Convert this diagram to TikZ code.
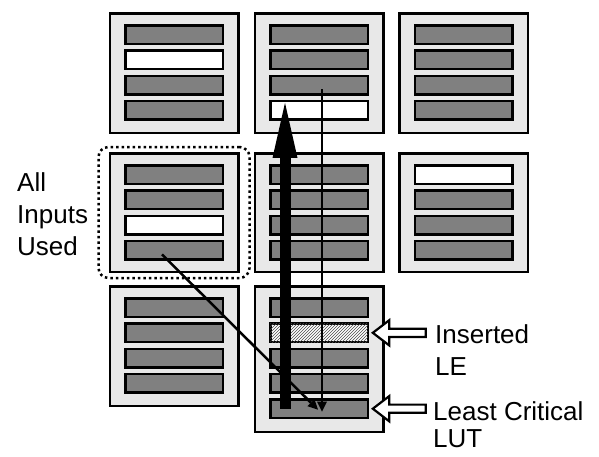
\documentclass[tikz,border=0pt]{standalone}
\usepackage{fontspec}
\setmainfont{Liberation Sans}
\usepackage{tikz}
\usetikzlibrary{arrows.meta, positioning, fit, calc, shapes.arrows, patterns}

\begin{document}
\begin{tikzpicture}[x=1pt, y=-1pt,
  cell/.style={draw, line width=2.5pt, fill=black!9, minimum width=128.5pt, inner sep=0pt},
  used/.style={draw, line width=2.5pt, fill=black!50, minimum width=97.5pt, minimum height=18.5pt, inner sep=0pt},
  free/.style={used, fill=white},
  ins/.style={used, fill=white, postaction={pattern=north east lines, pattern color=black!70}},
  grp/.style={draw, line width=2.5pt, dash pattern=on 2.5pt off 3pt, rounded corners=10pt},
  bigarr/.style={-{Triangle[length=55pt, width=25pt, line width=0pt]}, line width=11pt},
  arr/.style={-{Triangle[length=10pt, width=10pt, line width=0pt]}, line width=2.5pt},
  ptr/.style={single arrow, draw, fill=white, line width=2.2pt, minimum height=53pt, inner sep=3pt,
    single arrow head extend=8.5pt, single arrow tip angle=75, shape border rotate=180},
  lbl/.style={font=\fontsize{26}{32}\selectfont, align=left, inner sep=0pt},
]
\useasboundingbox (0,0) rectangle (599,456);
% logic blocks
\foreach \c/\x/\y/\h in {11/174/73/119.5, 12/319/73/119.5, 13/463.5/73/119.5,
    21/174/212.5/118.5, 22/319/212.5/118.5, 23/463.5/212.5/118.5,
    31/174/346/119.5, 32/319/359/145.5}
  \node[cell, minimum height=\h pt] (lab\c) at (\x,\y) {};
% LEs inside each block
\foreach \c/\x/\t/\bars in {11/174/12/{used,free,used,used}, 12/319/12/{used,used,used,free},
    13/463.5/12/{used,used,used,used}, 21/174/152/{used,used,free,used},
    22/319/152/{used,used,used,used}, 23/463.5/152/{free,used,used,used},
    31/174/285/{used,used,used,used}, 32/319/285/{used,ins,used,used,used}}
  \foreach \s [count=\k] in \bars
    \node[\s] (lab\c-\k) at ({\x},{\t+22.5+(\k-1)*25.3}) {};
\node[grp, fit=(lab21), inner xsep=10pt, inner ysep=5pt] (allused) {};
% paths
\draw[bigarr] ([xshift=-34pt]lab32-5.center) -- ([xshift=-34pt, yshift=-3pt]lab12-4.north);
\draw[arr] ([xshift=3pt, yshift=-4pt]lab12-3.center) -- ([xshift=3pt, yshift=-3pt]lab32-5.center);
\draw[arr] ([xshift=-12pt, yshift=-4pt]lab21-4.center) -- ([xshift=-1pt, yshift=-1pt]lab32-5.center);
% pointers and labels
\node[ptr, anchor=tip] (ptrle) at ([xshift=2pt]lab32-2.east) {};
\node[ptr, anchor=tip] (ptrlut) at ([xshift=2pt]lab32-5.east) {};
\node[lbl, anchor=north west] (alllbl) at (17,172) {All\\Inputs\\Used};
\node[lbl, anchor=north west] (inslbl) at (435,324) {Inserted\\LE};
\node[lbl, font=\fontsize{26}{27}\selectfont, anchor=north west] (lutlbl) at (433,401) {Least Critical\\LUT};
\end{tikzpicture}
\end{document}
